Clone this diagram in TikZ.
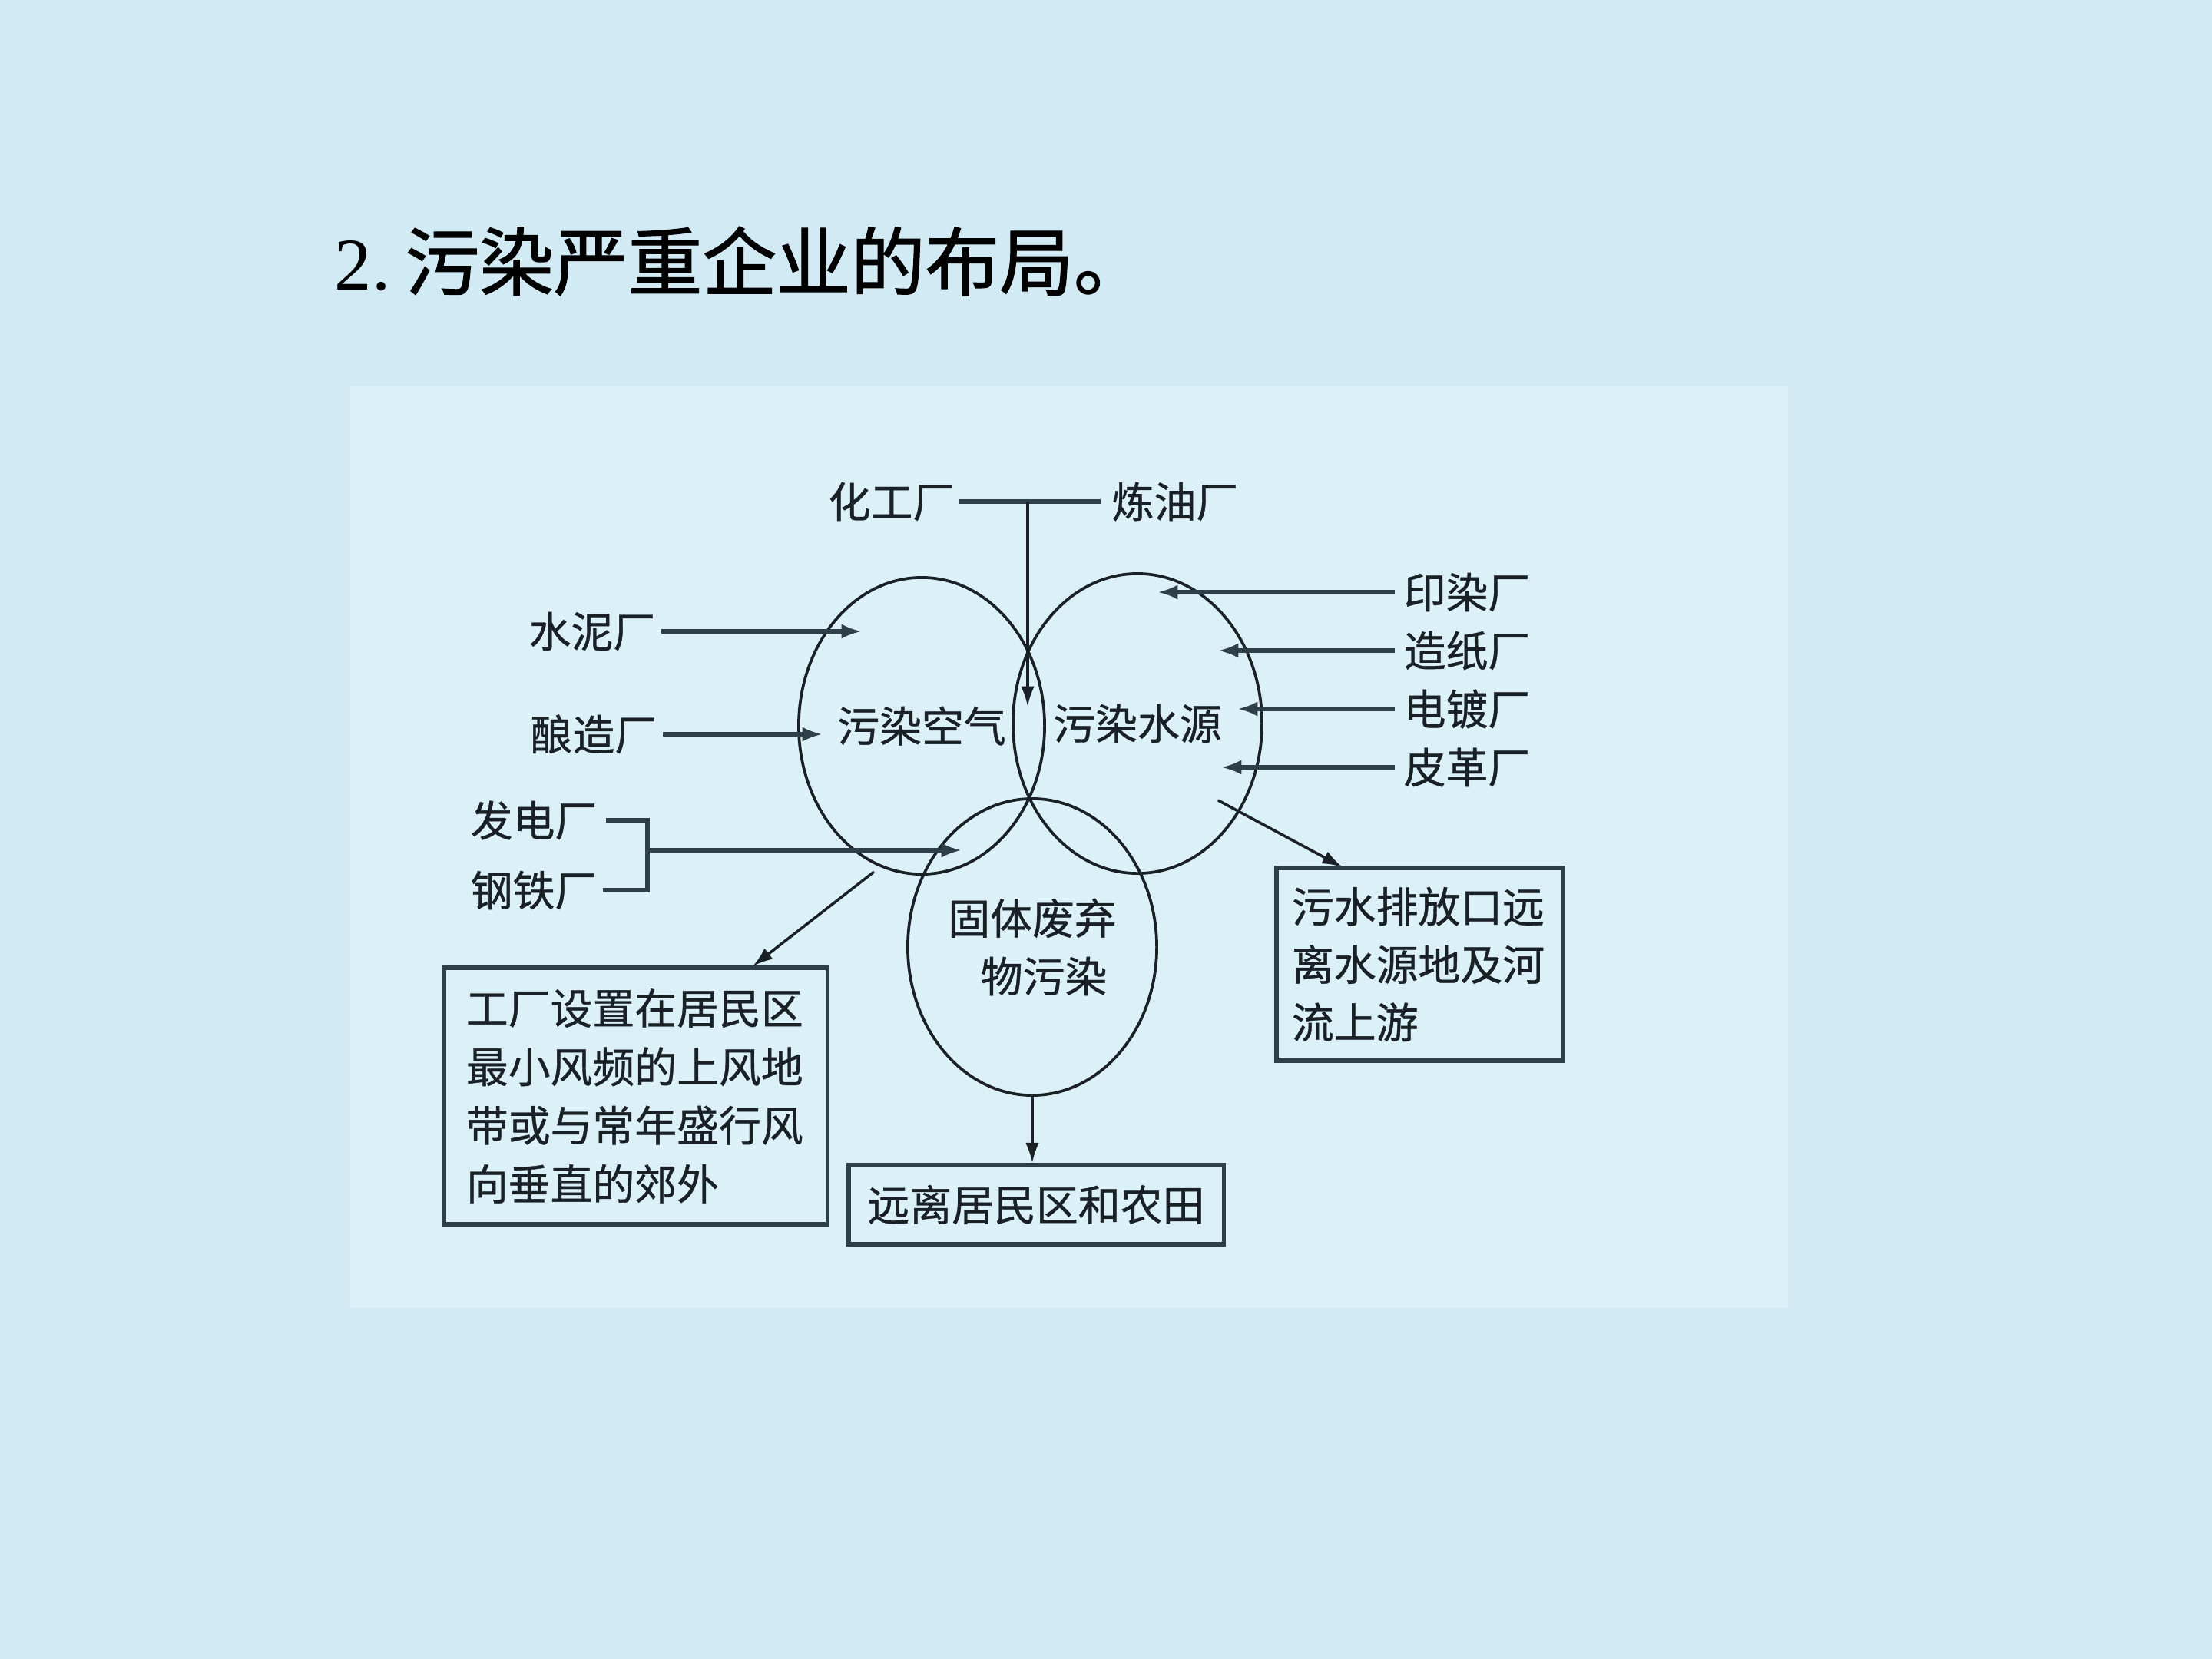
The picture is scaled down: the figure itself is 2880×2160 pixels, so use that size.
\documentclass[tikz,border=0pt]{standalone}
\usepackage{fontspec}
\newfontfamily\cjk[FakeBold=0.7]{Noto Sans CJK SC}
\newfontfamily\cjktitle[FakeBold=1.4]{Noto Sans CJK SC}
\newfontfamily\lser{Liberation Serif}
\usetikzlibrary{shapes.geometric,arrows.meta}
\definecolor{bgout}{HTML}{D2EAF4}
\definecolor{bgin}{HTML}{DCF0F8}
\definecolor{ink}{HTML}{1A2126}
\definecolor{boxink}{HTML}{2E3F48}
\begin{document}
\begin{tikzpicture}[x=0.01cm,y=-0.01cm,
  cjkf/.style={font=\cjk\fontsize{15.6}{21.5}\selectfont, text=ink},
  lbl/.style={cjkf, inner sep=0pt},
  ell/.style={ellipse, draw=ink, line width=1.05pt, inner sep=0pt, cjkf},
  feed/.style={draw=boxink, line width=1.7pt, -{Latex[length=7.5pt,width=5.5pt]}},
  bar/.style={draw=boxink, line width=1.7pt},
  thinarrow/.style={draw=ink, line width=1pt, -{Latex[length=7.5pt,width=5pt]}},
  box/.style={draw=boxink, line width=1.5pt, cjkf}
]
\useasboundingbox (0,0) rectangle (2880,2160);
\fill[bgout] (0,0) rectangle (2880,2160);
\fill[bgin] (456,503) rectangle (2328,1703);

% title
\node[anchor=west, inner sep=0pt, text=black, font=\cjktitle\fontsize{27.5}{27.5}\selectfont] (title) at (435,340) {{\lser 2.}\hspace{0.2em}污染严重企业的布局。};

% ellipses
\node[ell, minimum width=3.2cm, minimum height=3.86cm] (air) at (1200,945) {污染空气};
\node[ell, minimum width=3.24cm, minimum height=3.9cm] (water) at (1481,942) {污染水源};
\node[ell, minimum width=3.24cm, minimum height=3.86cm, align=center] (solid) at (1344,1233) {固体废弃\\\hspace*{0.55em}物污染};

% top labels
\node[lbl] (hg) at (1161,653) {化工厂};
\node[lbl] (ly) at (1530,653) {炼油厂};
\coordinate (jn) at (1338,653);
\coordinate (jt) at (1338,920);
\draw[bar] ([xshift=1pt]hg.east) -- ([xshift=-4pt]ly.west);
\draw[thinarrow] (jn) -- (jt);

% left labels
\node[lbl] (snc) at (771,822) {水泥厂};
\node[lbl] (nzc) at (773,956) {酿造厂};
\node[lbl] (fdc) at (695,1068) {发电厂};
\node[lbl] (gtc) at (695,1159) {钢铁厂};
\coordinate (tsn) at (1122,822);
\coordinate (tnz) at (1071,956);
\coordinate (bk) at (843,1107);
\coordinate (tfd) at (1252,1107);
\draw[feed] ([xshift=2pt]snc.east) -- (snc.east -| tsn);
\draw[feed] ([xshift=2pt]nzc.east) -- (nzc.east -| tnz);
\draw[bar] ([xshift=3pt]fdc.east) -| (bk) |- ([xshift=2pt]gtc.east);
\draw[feed] (bk) -- (tfd);

% right labels
\node[lbl] (yrc) at (1910,771) {印染厂};
\node[lbl] (zzc) at (1910,847) {造纸厂};
\node[lbl] (ddc) at (1910,923) {电镀厂};
\node[lbl] (pgc) at (1910,999) {皮革厂};
\coordinate (tyr) at (1507,771);
\coordinate (tzz) at (1586,847);
\coordinate (tdd) at (1611,923);
\coordinate (tpg) at (1590,999);
\draw[feed] ([xshift=-3pt]yrc.west) -- (yrc.west -| tyr);
\draw[feed] ([xshift=-3pt]zzc.west) -- (zzc.west -| tzz);
\draw[feed] ([xshift=-3pt]ddc.west) -- (ddc.west -| tdd);
\draw[feed] ([xshift=-3pt]pgc.west) -- (pgc.west -| tpg);

% boxes
\node[box, text width=4.42cm, inner xsep=0.28cm, minimum height=3.34cm, align=left,
      font=\cjk\fontsize{15.6}{21.7}\selectfont] (lbox) at (828,1427)
  {工厂设置在居民区\\最小风频的上风地\\带或与常年盛行风\\向垂直的郊外};
\node[box, text width=3.33cm, inner xsep=0.2cm, minimum height=2.51cm, align=left,
      font=\cjk\fontsize{15.6}{21.4}\selectfont] (rbox) at (1848.5,1255.5)
  {污水排放口远\\离水源地及河\\流上游};
\node[box, minimum width=4.88cm, minimum height=1.03cm, inner sep=0pt] (bbox) at (1349,1568.5)
  {远离居民区和农田};

% outgoing arrows
\coordinate (sl) at (1138,1135);
\coordinate (el) at (980,1258);
\coordinate (sr) at (1586,1042);
\coordinate (er) at (1748,1129);
\draw[thinarrow] (sl) -- (el);
\draw[thinarrow] (sr) -- (er);
\draw[thinarrow] (solid.south) -- (solid.south |- bbox.north);
\end{tikzpicture}
\end{document}
